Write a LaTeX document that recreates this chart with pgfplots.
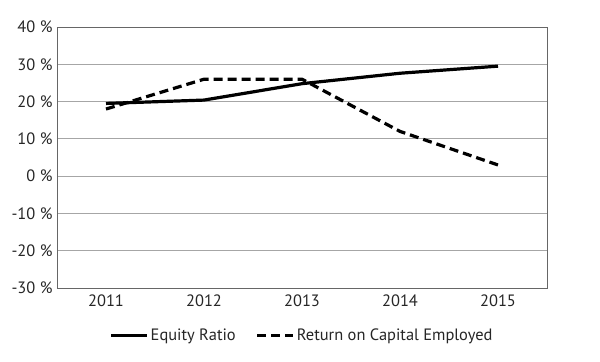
\documentclass[border=0pt]{standalone}
\usepackage{fontspec}
\setmainfont{PT Sans}
\usepackage{pgfplots}
\pgfplotsset{compat=1.18}
\begin{document}
\begin{tikzpicture}[x=1bp,y=1bp]
\useasboundingbox (-57,-73) rectangle (543,288);
\begin{axis}[
  at={(0,0)}, anchor=south west,
  scale only axis, width=490bp, height=261bp,
  xmin=-0.5, xmax=4.5, ymin=-30, ymax=40,
  xtick={0,1,2,3,4}, xticklabels={2011,2012,2013,2014,2015},
  ytick={-30,-20,-10,0,10,20,30,40},
  yticklabels={-30 \%,-20 \%,-10 \%,0 \%,10 \%,20 \%,30 \%,40 \%},
  tick style={draw=none},
  ymajorgrids, grid style={gray!70, line width=0.8pt},
  axis line style={gray!80!black, line width=0.8pt},
  ticklabel style={font=\fontsize{16.5}{18}\selectfont, text=black!85},
  yticklabel style={xshift=-1bp},
  xticklabel style={yshift=-3bp},
  legend style={at={(0.5,-0.14)}, anchor=north, draw=none, legend columns=2,
    font=\fontsize{16.5}{18}\selectfont, text=black!85,
    /tikz/every even column/.append style={column sep=18bp}},
  legend image code/.code={\draw[#1] (0bp,0bp) -- (36bp,0bp);},
]
\addplot[black, line width=3.2bp, line join=round] coordinates {(0,19.5) (1,20.4) (2,24.8) (3,27.6) (4,29.5)};
\addlegendentry{Equity Ratio}
\addplot[black, line width=3.2bp, dash pattern=on 9bp off 5bp] coordinates {(0,18) (1,26) (2,26) (3,12) (4,3)};
\addlegendentry{Return on Capital Employed}
\end{axis}
\end{tikzpicture}
\end{document}
